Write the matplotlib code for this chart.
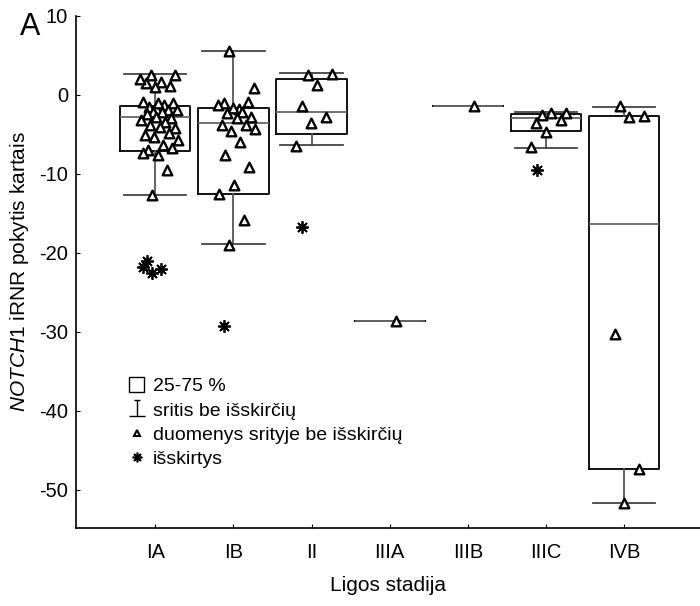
import matplotlib
matplotlib.use('Agg')
import matplotlib.pyplot as plt
from matplotlib.path import Path
from matplotlib.patches import Rectangle
from matplotlib.lines import Line2D

plt.rcParams['font.family'] = ['Liberation Sans', 'DejaVu Sans']
plt.rcParams['mathtext.fontset'] = 'custom'
plt.rcParams['mathtext.rm'] = 'Liberation Sans'
plt.rcParams['mathtext.it'] = 'Liberation Sans:italic'
plt.rcParams['axes.unicode_minus'] = False

stages = ['IA', 'IB', 'II', 'IIIA', 'IIIB', 'IIIC', 'IVB']

# box statistics
q1 = [-7.1, -12.5, -4.9, -28.6, -1.4, -4.6, -47.4]
q3 = [-1.4, -1.7, 2.0, -28.6, -1.4, -2.4, -2.7]
med = [-2.75, -3.6, -2.1, -28.6, -1.4, -2.95, -16.4]
whis_lo = [-12.7, -18.9, -6.3, -28.6, -1.4, -6.7, -51.7]
whis_hi = [2.6, 5.6, 2.75, -28.6, -1.4, -2.1, -1.5]

# points inside the whisker range
pts_IA = [2.5, 2.5, 1.7, 1.55, 1.15, 1.05, 2.0, -1.25, -1.5, -1.05, -1.05, -0.9,
          -1.9, -2.1, -1.9, -2.1, -2.4, -2.95, -2.75, -3.15, -3.4, -3.8, -4.2,
          -4.0, -5.05, -4.85, -5.3, -5.7, -6.3, -6.95, -6.75, -7.6, -7.4,
          -9.5, -12.7]
pts_IB = [5.6, 0.9, -1.8, -1.05, -0.95, -1.6, -1.3, -2.1, -2.3, -2.75, -2.95,
          -3.8, -3.8, -4.5, -4.35, -6.0, -7.6, -9.1, -11.4, -12.5, -15.8, -19.0]
pts_II = [2.5, 2.65, 1.25, -1.35, -2.85, -3.6, -6.45]
pts_IIIA = [-28.6]
pts_IIIB = [-1.4]
pts_IIIC = [-2.5, -2.3, -2.25, -3.5, -3.15, -4.65, -6.55]
pts_IVB = [-1.4, -2.65, -2.75, -30.3, -47.4, -51.7]
points = [pts_IA, pts_IB, pts_II, pts_IIIA, pts_IIIB, pts_IIIC, pts_IVB]

# outliers
out_IA = [-21.0, -22.0, -22.6, -21.8]
out_IB = [-29.3]
out_II = [-16.7]
out_IIIC = [-9.5]
outliers = [out_IA, out_IB, out_II, [], [], out_IIIC, []]

fig = plt.figure(figsize=(7.0, 6.06), dpi=100)
ax = fig.add_axes([0.109, 0.1292, 0.8909, 0.8444])

stats = []
for i, s in enumerate(stages):
    stats.append(dict(med=med[i], q1=q1[i], q3=q3[i], whislo=whis_lo[i],
                      whishi=whis_hi[i], fliers=[], label=s))

pos = list(range(len(stages)))
ax.bxp(stats, positions=pos, widths=0.9, capwidths=0.8, showfliers=False,
       boxprops=dict(color='black', linewidth=1.3),
       whiskerprops=dict(color='#555555', linewidth=1.3),
       capprops=dict(color='#444444', linewidth=1.3),
       medianprops=dict(color='#666666', linewidth=1.3))


def jitter(n, spread, shift):
    # deterministic spread of markers around the box centre
    return [((k * 0.618034 + 0.3) % 1.0 - 0.5) * spread + shift for k in range(n)]


for i, vals in enumerate(points):
    if len(vals) == 1:
        xs = [pos[i] + 0.08]
    else:
        xs = [pos[i] + d for d in jitter(len(vals), 0.5, 0.05)]
    ax.scatter(xs, vals, marker='^', s=48, facecolor='white', edgecolor='black',
               linewidths=1.7, zorder=3)

for i, vals in enumerate(outliers):
    if not vals:
        continue
    xs = [pos[i] + d for d in jitter(len(vals), 0.3, -0.05)] if len(vals) > 1 else [pos[i] - 0.12]
    ax.plot(xs, vals, linestyle='none', marker=(8, 2, 0), markersize=9,
            markeredgewidth=1.3, color='black', zorder=3)

ax.set_xlim(-1.01, 6.97)
ax.set_ylim(-54.8, 10.0)
ax.set_xticks(pos)
ax.set_xticklabels(stages)
ax.set_yticks([10, 0, -10, -20, -30, -40, -50])
ax.tick_params(direction='in', length=3, width=0.8, labelsize=14.5)
ax.tick_params(axis='x', pad=11)
ax.tick_params(axis='y', pad=6)
ax.spines['top'].set_visible(False)
ax.spines['right'].set_visible(False)
ax.spines['left'].set_linewidth(1.2)
ax.spines['bottom'].set_linewidth(1.2)

ax.set_xlabel('Ligos stadija', fontsize=15, labelpad=10)
ax.set_ylabel(r'$\mathit{NOTCH1}$ iRNR pokytis kartais', fontsize=15, labelpad=6)

fig.text(0.043, 0.955, 'A', fontsize=22, ha='center', va='center')

# legend
ibeam = Path([(-0.35, 1), (0.35, 1), (0, 1), (0, -1), (-1, -1), (1, -1)],
             [Path.MOVETO, Path.LINETO, Path.MOVETO, Path.LINETO, Path.MOVETO, Path.LINETO])
handles = [
    Rectangle((0, 0), 1, 1, facecolor='white', edgecolor='black', linewidth=1.0),
    Line2D([], [], linestyle='none', marker=ibeam, markersize=12,
           markeredgewidth=1.0, color='black'),
    Line2D([], [], linestyle='none', marker='^', markersize=5,
           markerfacecolor='white', markeredgecolor='black', markeredgewidth=1.5),
    Line2D([], [], linestyle='none', marker=(8, 2, 0), markersize=7,
           markeredgewidth=1.2, color='black'),
]
labels = ['25-75 %', 'sritis be išskirčių', 'duomenys srityje be išskirčių', 'išskirtys']
ax.legend(handles, labels, loc='upper left', bbox_to_anchor=(0.085, 0.295),
          frameon=False, fontsize=14, handlelength=0.75, handleheight=0.85,
          handletextpad=0.45, labelspacing=0.3, borderpad=0, borderaxespad=0)

fig.savefig('out.png', dpi=100)
